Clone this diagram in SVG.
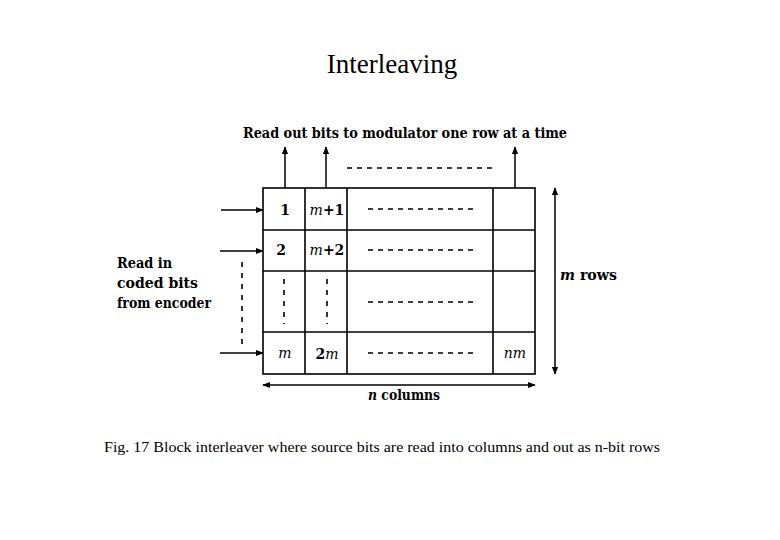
<svg xmlns="http://www.w3.org/2000/svg" width="780" height="540" viewBox="0 0 780 540">
<defs>
<marker id="ah" viewBox="0 0 10 10" refX="9" refY="5" markerWidth="8" markerHeight="8" orient="auto-start-reverse" markerUnits="userSpaceOnUse"><path d="M0,1 L10,5 L0,9 z" fill="#000"/></marker>
<style>
.ln{stroke:#000;stroke-width:1.5;fill:none}
.grid{stroke:#000;stroke-width:1.6;fill:none}
.dash{stroke:#000;stroke-width:1.4;stroke-dasharray:5,5;fill:none}
.vd{stroke:#000;stroke-width:1.6;stroke-dasharray:5,6;fill:none}
.lbl{font-family:"DejaVu Serif","Liberation Serif",serif;font-size:14px;font-weight:bold;fill:#000}
.cell{font-family:"DejaVu Serif","Liberation Serif",serif;font-size:14px;font-weight:bold;fill:#000;text-anchor:middle}
.it{font-style:italic;font-weight:normal}
</style>
</defs>
<rect width="780" height="540" fill="#fff"/>
<text x="392" y="73" font-family="Liberation Serif, serif" font-size="27" text-anchor="middle">Interleaving</text>
<text x="405" y="138" class="lbl" text-anchor="middle" textLength="324" lengthAdjust="spacingAndGlyphs">Read out bits to modulator one row at a time</text>
<g id="grid">
<rect x="263" y="188" width="272" height="186" class="grid"/>
<line x1="263" y1="230" x2="535" y2="230" class="grid"/>
<line x1="263" y1="271" x2="535" y2="271" class="grid"/>
<line x1="263" y1="332" x2="535" y2="332" class="grid"/>
<line x1="305" y1="188" x2="305" y2="374" class="grid"/>
<line x1="347" y1="188" x2="347" y2="374" class="grid"/>
<line x1="493" y1="188" x2="493" y2="374" class="grid"/>
</g>
<g id="cells">
<text x="285" y="215" class="cell">1</text>
<text x="327" y="215" class="cell"><tspan class="it">m</tspan>+1</text>
<text x="281" y="255" class="cell">2</text>
<text x="327" y="255" class="cell"><tspan class="it">m</tspan>+2</text>
<text x="285" y="358" class="cell it">m</text>
<text x="327" y="359" class="cell">2<tspan class="it">m</tspan></text>
<text x="515" y="358" class="cell it">nm</text>
<line x1="284" y1="279" x2="284" y2="324" class="vd"/>
<line x1="327" y1="279" x2="327" y2="324" class="vd"/>
<line x1="368" y1="209" x2="476" y2="209" class="dash"/>
<line x1="368" y1="250" x2="476" y2="250" class="dash"/>
<line x1="368" y1="302" x2="476" y2="302" class="dash"/>
<line x1="368" y1="353" x2="476" y2="353" class="dash"/>
</g>
<g id="connectors">
<line x1="285" y1="188" x2="285" y2="147" class="ln" marker-end="url(#ah)"/>
<line x1="326" y1="188" x2="326" y2="147" class="ln" marker-end="url(#ah)"/>
<line x1="515" y1="188" x2="515" y2="147" class="ln" marker-end="url(#ah)"/>
<line x1="347" y1="168" x2="495" y2="168" class="dash"/>
<line x1="221" y1="210" x2="263" y2="210" class="ln" marker-end="url(#ah)"/>
<line x1="220" y1="251" x2="263" y2="251" class="ln" marker-end="url(#ah)"/>
<line x1="220" y1="353" x2="263" y2="353" class="ln" marker-end="url(#ah)"/>
<line x1="242" y1="262" x2="242" y2="345" class="vd"/>
<line x1="555" y1="188" x2="555" y2="374" class="ln" marker-start="url(#ah)" marker-end="url(#ah)"/>
<line x1="263" y1="385" x2="535" y2="385" class="ln" marker-start="url(#ah)" marker-end="url(#ah)"/>
</g>
<g id="labels">
<text x="117" y="268" class="lbl" textLength="55" lengthAdjust="spacingAndGlyphs">Read in</text>
<text x="117" y="288" class="lbl" textLength="81" lengthAdjust="spacingAndGlyphs">coded bits</text>
<text x="117" y="308" class="lbl" textLength="94" lengthAdjust="spacingAndGlyphs">from encoder</text>
<text x="560" y="280" class="lbl" textLength="57" lengthAdjust="spacingAndGlyphs"><tspan font-style="italic">m</tspan> rows</text>
<text x="368" y="400" class="lbl" textLength="72" lengthAdjust="spacingAndGlyphs"><tspan font-style="italic">n</tspan> columns</text>
</g>
<text x="104" y="452" font-family="Liberation Serif, serif" font-size="14.5" textLength="556" lengthAdjust="spacingAndGlyphs">Fig. 17 Block interleaver where source bits are read into columns and out as n-bit rows</text>
</svg>
